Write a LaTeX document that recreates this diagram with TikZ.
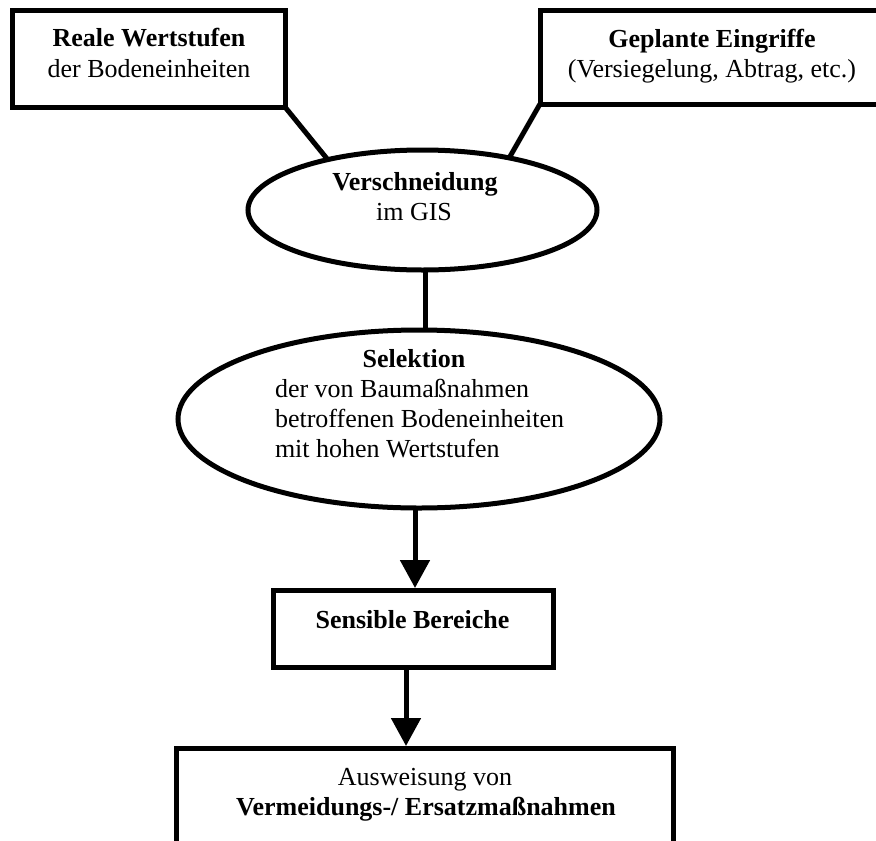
\documentclass[tikz,border=0pt]{standalone}
\usepackage{fontspec}
\setmainfont{Liberation Serif}
\usetikzlibrary{arrows.meta,shapes.geometric}
\tikzset{
  shapebox/.style={draw=black, line width=5pt, rectangle, inner sep=0pt, outer sep=0pt, fill=white},
  oval/.style={draw=black, line width=5pt, ellipse, inner sep=0pt, outer sep=0pt, fill=white},
  conn/.style={draw=black, line width=5pt},
  arr/.style={draw=black, line width=5pt, -{Triangle[length=28pt,width=29pt]}, shorten >=2pt},
  lbl/.style={inner sep=0pt, outer sep=0pt, anchor=base, font=\fontsize{26}{30}\selectfont},
  lblb/.style={lbl, font=\fontsize{26}{30}\selectfont\bfseries},
}
\begin{document}
\begin{tikzpicture}[x=1pt, y=-1pt]
\fill[white] (0,0) rectangle (876,841);
\useasboundingbox (0,0) rectangle (876,841);

% shapes
\node[shapebox, minimum width=273pt, minimum height=97pt] (b1) at (148.5,58.5) {};
\node[shapebox, minimum width=343pt, minimum height=94pt] (b2) at (711.5,57) {};
\node[oval, minimum width=349pt, minimum height=120pt] (e1) at (422.5,210) {};
\node[oval, minimum width=482pt, minimum height=178pt] (e2) at (419,419) {};
\node[shapebox, minimum width=280pt, minimum height=77pt] (b3) at (413,628.5) {};
\node[shapebox, minimum width=497pt, minimum height=124pt] (b4) at (424.5,810) {};

% connectors
\draw[conn] (b1.south east) -- (e1.152);
\draw[conn] (b2.south west) -- (e1.31);
\draw[conn] ([xshift=2.5pt]e1.south) -- ([xshift=2.5pt]e1.south |- e2.north);
\draw[arr] ([xshift=2pt]b3.north |- e2.south) -- ([xshift=2pt]b3.north);
\draw[arr] ([xshift=-7pt]b3.south) -- ([xshift=-7pt]b3.south |- b4.north);

% texts
\node[lblb] (t1a) at (149,46) {Reale Wertstufen};
\node[lbl]  (t1b) at (149,77) {der Bodeneinheiten};
\node[lblb] (t2a) at (712,47) {Geplante Eingriffe};
\node[lbl]  (t2b) at (712,77) {(Versiegelung, Abtrag, etc.)};
\node[lblb] (t3a) at (415,190) {Verschneidung};
\node[lbl]  (t3b) at (414,220) {im GIS};
\node[lblb] (t4a) at (414,367) {Selektion};
\node[lbl, anchor=base west] (t4b) at (275,397) {der von Baumaßnahmen};
\node[lbl, anchor=base west] (t4c) at (275,427) {betroffenen Bodeneinheiten};
\node[lbl, anchor=base west] (t4d) at (275,457) {mit hohen Wertstufen};
\node[lblb] (t5) at (412.5,628) {Sensible Bereiche};
\node[lbl]  (t6a) at (425,785) {Ausweisung von};
\node[lblb] (t6b) at (426,815) {Vermeidungs-/ Ersatzmaßnahmen};
\end{tikzpicture}
\end{document}
